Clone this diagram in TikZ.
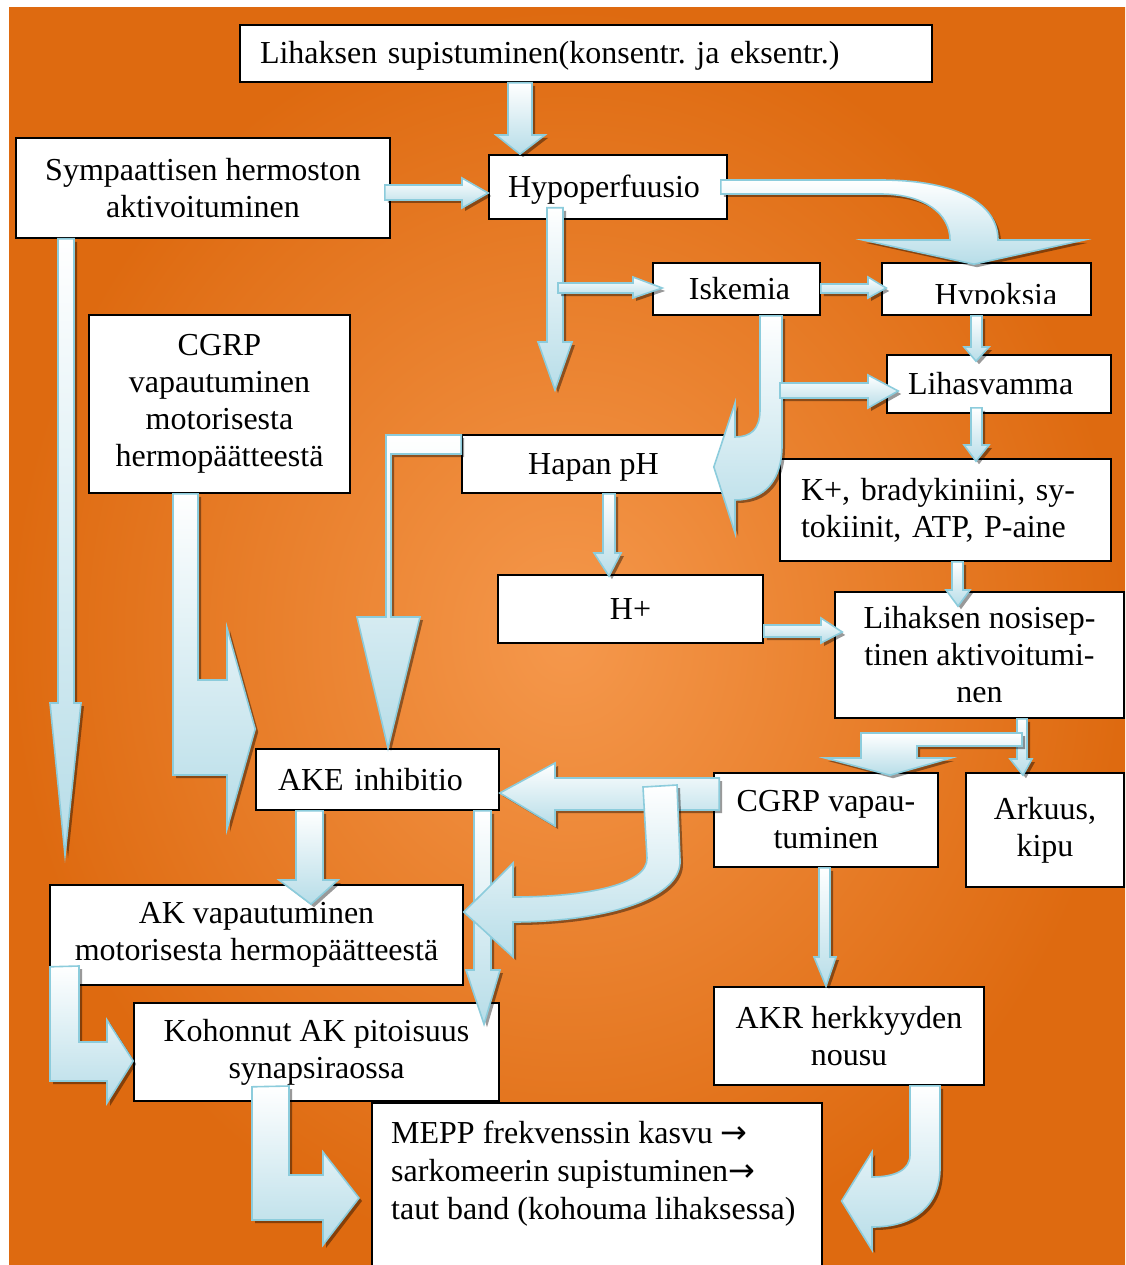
\documentclass[tikz,border=0pt]{standalone}
\usepackage{fontspec}
\setmainfont{Liberation Serif}
\newfontfamily\arrowfont{DejaVu Sans}
\usetikzlibrary{calc, shadows}
\frenchspacing

\definecolor{bgdark}{RGB}{222,106,16}
\definecolor{bglight}{RGB}{245,152,76}
\definecolor{arrowfill}{RGB}{183,221,232}
\definecolor{arrowline}{RGB}{140,204,220}

\begin{document}
\begin{tikzpicture}[x=1pt, y=-1pt,
		box/.style={
			draw=black,
			line width=1.6pt,
			fill=white,
			align=center,
			inner sep=0pt,
			font=\fontsize{32}{37}\selectfont
		},
		oneline/.style={text height=28pt, text depth=7pt},
		blockarrow/.style={
			draw=arrowline,
			line width=1.6pt,
			top color=white,
			bottom color=arrowfill,
			drop shadow={shadow xshift=3pt, shadow yshift=-3pt, fill=black, opacity=0.4}
		}]
		\useasboundingbox (0,0) rectangle (1125,1265);
		\fill[white] (0,0) rectangle (1125,1265);
		\shade[inner color=bglight, outer color=bgdark] (9,8) rectangle (1125,1265);
		
		% boxes
		\node[box, oneline, minimum width=692pt, minimum height=57pt, text width=652pt, align=left] (lihaksen) at (586,53.5) {Lihaksen supistuminen(konsentr. ja eksentr.)};
		\node[box, minimum width=374pt, minimum height=100pt] (sympaatt) at (203,188) {Sympaattisen hermoston\\aktivoituminen};
		\node[box, oneline, minimum width=238pt, minimum height=64pt, text width=200pt, align=left] (hypoperf) at (608,187) {Hypoperfuusio};
		\node[box, oneline, minimum width=167pt, minimum height=52pt] (iskemia) at (736.5,289) {\hspace{6pt}Iskemia};
		\node[box, minimum width=209pt, minimum height=52pt] (hypoksia) at (986.5,289) {};
		\begin{scope}
			\clip (882,263) rectangle (1091,303);
			\node[font=\fontsize{32}{37}\selectfont, anchor=base, inner sep=0pt] (hypoksiatext) at (996,305) {Hypoksia};
		\end{scope}
		\node[box, oneline, minimum width=224pt, minimum height=58pt, text width=182pt, align=left] (lihasvamma) at (999,384) {Lihasvamma};
		\node[box, minimum width=261pt, minimum height=178pt] (cgrpmot) at (219.5,404) {CGRP\\vapautuminen\\motorisesta\\hermopäätteestä};
		\node[box, oneline, minimum width=263pt, minimum height=58pt] (hapan) at (593.5,464) {Hapan pH};
		\node[box, minimum width=331pt, minimum height=102pt, text width=289pt, align=left] (kplus) at (945.5,510) {K+, bradykiniini, sy-\\tokiinit, ATP, P-aine};
		\node[box, minimum width=265pt, minimum height=68pt] (hplus) at (630.5,609) {H+};
		\node[box, minimum width=289pt, minimum height=126pt] (nosisep) at (979.5,655) {Lihaksen nosisep-\\tinen aktivoitumi-\\nen};
		\node[box, oneline, minimum width=243pt, minimum height=61pt, text width=199pt, align=left] (ake) at (377.5,779.5) {AKE inhibitio};
		\node[box, minimum width=224pt, minimum height=94pt] (cgrpvap) at (826,820) {CGRP vapau-\\tuminen};
		\node[box, minimum width=158pt, minimum height=114pt] (arkuus) at (1045,830) {Arkuus,\\kipu};
		\node[box, minimum width=413pt, minimum height=100pt] (akvap) at (256.5,935) {AK vapautuminen\\motorisesta hermopäätteestä};
		\node[box, minimum width=365pt, minimum height=98pt] (kohonnut) at (316.5,1052) {Kohonnut AK pitoisuus\\synapsiraossa};
		\node[box, minimum width=270pt, minimum height=98pt] (akr) at (849,1036) {AKR herkkyyden\\nousu};
		\node[box, minimum width=450pt, minimum height=180pt, anchor=north west] (mepp) at (371,1102) {};
		\node[font=\fontsize{32}{38}\selectfont, anchor=north west, align=left, inner sep=0pt] (mepptext) at (391,1121) {MEPP frekvenssin kasvu {\arrowfont →}\\sarkomeerin supistuminen{\arrowfont →}\\taut band (kohouma lihaksessa)};
		
		\coordinate (perfend) at (555,390);
		\coordinate (sympend) at (65,855);
		
		% arrows
		\draw[blockarrow] (lihaksen.south -| 508,0) -- (508,135) -- (496,135) -- (hypoperf.north -| 520,0) -- (545,135) -- (532,135) -- (lihaksen.south -| 532,0) -- cycle;
		\draw[blockarrow] ($(sympaatt.east |- 0,185)+(-6,0)$) -- (462,185) -- (462,178) -- (hypoperf.west |- 0,193) -- (462,208) -- (462,200) -- ($(sympaatt.east |- 0,200)+(-6,0)$) -- cycle;
		\draw[blockarrow] ($(hypoperf.east |- 0,180)+(-7,0)$) -- (880,180) .. controls (960,180) and (998,205) .. (998,240) -- (1084,240) -- ($(hypoksia.north -| 974,0)+(0,2)$) -- (863,240) -- (950,240) .. controls (950,214) and (925,194) .. (880,194) -- ($(hypoperf.east |- 0,194)+(-7,0)$) -- cycle;
		\draw[blockarrow] ($(hypoperf.south -| 547,0)+(0,-12)$) -- (547,342) -- (538,342) -- (perfend) -- (572,342) -- (563,342) -- ($(hypoperf.south -| 563,0)+(0,-12)$) -- cycle;
		\draw[blockarrow] (558,283) -- (633,283) -- (633,277) -- ($(iskemia.west |- 0,288)+(10,0)$) -- (633,298) -- (633,293) -- (558,293) -- cycle;
		\draw[blockarrow] (iskemia.east |- 0,284) -- (868,284) -- (868,277) -- ($(hypoksia.west |- 0,288)+(5,0)$) -- (868,298) -- (868,293) -- (iskemia.east |- 0,293) -- cycle;
		\draw[blockarrow] (iskemia.south -| 760,0) -- (760,410) .. controls (760,430) and (750,437) .. (735,437) -- (735,403) -- ($(hapan.east |- 0,467)+(-12,0)$) -- (735,533) -- (735,500) .. controls (765,500) and (782,480) .. (782,445) -- (iskemia.south -| 782,0) -- cycle;
		\draw[blockarrow] (780,383) -- (868,383) -- (868,375) -- ($(lihasvamma.west |- 0,391)+(12,0)$) -- (868,408) -- (868,398) -- (780,398) -- cycle;
		\draw[blockarrow] (hypoksia.south -| 971,0) -- (971,347) -- (964,347) -- ($(lihasvamma.north -| 976,0)+(0,7)$) -- (989,347) -- (982,347) -- (hypoksia.south -| 982,0) -- cycle;
		\draw[blockarrow] ($(lihasvamma.south -| 971,0)+(0,-6)$) -- (971,445) -- (964,445) -- ($(kplus.north -| 976,0)+(0,3)$) -- (989,445) -- (982,445) -- ($(lihasvamma.south -| 982,0)+(0,-6)$) -- cycle;
		\draw[blockarrow] (kplus.south -| 952,0) -- (952,590) -- (946,590) -- ($(nosisep.north -| 958,0)+(0,15)$) -- (970,590) -- (963,590) -- (kplus.south -| 963,0) -- cycle;
		\draw[blockarrow] (hapan.south -| 603,0) -- (603,553) -- (594,553) -- ($(hplus.north -| 609,0)+(0,2)$) -- (621,553) -- (615,553) -- (hapan.south -| 615,0) -- cycle;
		\draw[blockarrow] (hplus.east |- 0,625) -- (821,625) -- (821,618) -- ($(nosisep.west |- 0,632)+(8,0)$) -- (821,643) -- (821,637) -- (hplus.east |- 0,637) -- cycle;
		\draw[blockarrow] (hapan.west |- 0,435) -- (386,435) -- (386,617) -- (357,617) -- (ake.north -| 388,0) -- (420,617) -- (391,617) -- (391,454) -- (hapan.west |- 0,454) -- cycle;
		\draw[blockarrow] (cgrpmot.south -| 173,0) -- (173,775) -- (227,775) -- (227,829) -- (ake.west |- 0,729) -- (227,628) -- (227,680) -- (198,680) -- (cgrpmot.south -| 198,0) -- cycle;
		\draw[blockarrow] (sympaatt.south -| 58,0) -- (58,703) -- (50,703) -- (sympend) -- (81,703) -- (74,703) -- (sympaatt.south -| 74,0) -- cycle;
		\draw[blockarrow] ($(cgrpvap.west |- 0,778)+(6,0)$) -- (555,778) -- (555,763) -- (ake.east |- 0,793) -- (555,826) -- (555,810) -- ($(cgrpvap.west |- 0,810)+(6,0)$) -- cycle;
		\draw[blockarrow] (ake.south -| 474,0) -- (474,970) -- (466,970) -- ($(kohonnut.north -| 484,0)+(0,22)$) -- (500,970) -- (491,970) -- (ake.south -| 491,0) -- cycle;
		\draw[blockarrow] (643,787) -- (677,785) -- (680,860) .. controls (682,900) and (600,922) .. (513,922) -- (513,957) -- (akvap.east |- 0,912) -- (513,863) -- (513,897) .. controls (585,897) and (648,885) .. (647,858) -- cycle;
		\draw[blockarrow] (ake.south -| 296,0) -- (296,880) -- (279,880) -- ($(akvap.north -| 311,0)+(0,20)$) -- (338,880) -- (323,880) -- (ake.south -| 323,0) -- cycle;
		\draw[blockarrow] ($(akvap.south -| 50,0)+(0,-19)$) -- (79,966) -- (79,1042) -- (107,1042) -- (107,1020) -- (kohonnut.west |- 0,1061) -- (107,1103) -- (107,1081) -- (50,1081) -- cycle;
		\draw[blockarrow] ($(kohonnut.south -| 252,0)+(0,-15)$) -- (289,1086) -- (289,1175) -- (323,1175) -- (323,1152) -- ($(mepp.west |- 0,1198)+(-12,0)$) -- (323,1245) -- (323,1220) -- (252,1220) -- cycle;
		\draw[blockarrow] (nosisep.south -| 1017,0) -- (1017,759) -- (1010,759) -- ($(arkuus.north -| 1023,0)+(0,3)$) -- (1032,759) -- (1027,759) -- (nosisep.south -| 1027,0) -- cycle;
		\draw[blockarrow] (861,733) -- (1022,733) -- (1022,746) -- (917,746) -- (917,758) -- (951,758) -- ($(cgrpvap.north -| 890,0)+(0,3)$) -- (825,758) -- (861,758) -- cycle;
		\draw[blockarrow] (cgrpvap.south -| 819,0) -- (819,957) -- (814,957) -- (akr.north -| 826,0) -- (836,957) -- (830,957) -- (cgrpvap.south -| 830,0) -- cycle;
		\draw[blockarrow] (akr.south -| 910,0) -- (910,1155) .. controls (910,1170) and (895,1177) .. (872,1177) -- (872,1152) -- ($(mepp.east |- 0,1201)+(19,0)$) -- (872,1250) -- (872,1227) .. controls (915,1227) and (940,1205) .. (940,1168) -- (akr.south -| 940,0) -- cycle;
	\end{tikzpicture}
\end{document}
